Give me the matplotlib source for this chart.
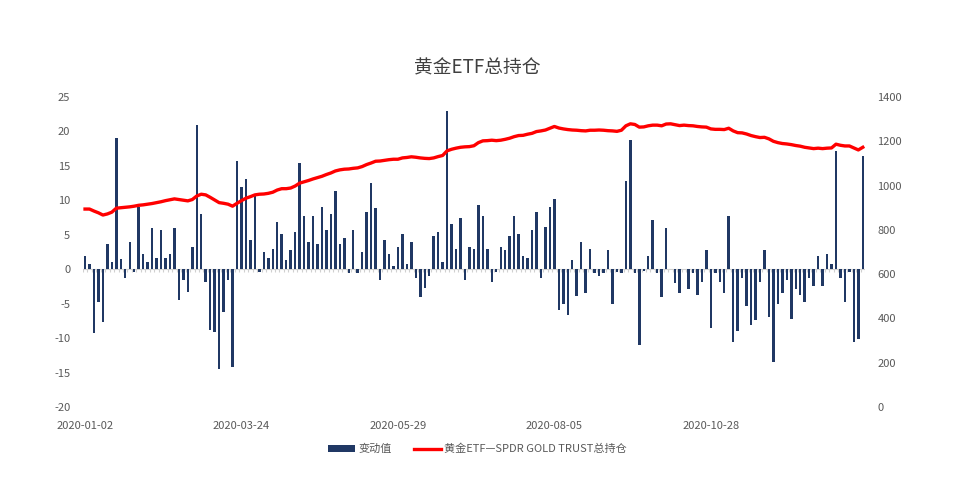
import numpy as np
import matplotlib.pyplot as plt
from matplotlib.patches import Patch
from matplotlib.lines import Line2D

plt.rcParams['font.family'] = ['Noto Sans CJK SC', 'DejaVu Sans']
plt.rcParams['axes.unicode_minus'] = False

# daily change (left axis)
change = [1.9, 0.7, -9.3, -4.7, -7.6, 3.6, 1.0, 19.1, 1.5, -1.3,
          3.9, -0.4, 9.0, 2.2, 1.0, 6.0, 1.6, 5.7, 1.6, 2.2,
          6.0, -4.5, -1.6, -3.3, 3.3, 21.0, 8.0, -1.8, -8.8, -9.1,
          -14.5, -6.2, -1.6, -14.2, 15.7, 12.0, 13.1, 4.2, 10.6, -0.4,
          2.5, 1.6, 3.0, 6.8, 5.1, 1.3, 2.8, 5.4, 15.4, 7.7,
          3.9, 7.7, 3.6, 9.0, 5.7, 8.0, 11.4, 3.6, 4.5, -0.6,
          5.7, -0.6, 2.5, 8.3, 12.5, 8.9, -1.6, 4.2, 2.2, 0.4,
          3.3, 5.1, 0.7, 3.9, -1.2, -4.1, -2.7, -1.0, 4.8, 5.4,
          1.0, 23.0, 6.5, 3.0, 7.4, -1.5, 3.3, 3.0, 9.3, 7.7,
          3.0, -1.8, -0.4, 3.3, 2.8, 4.8, 7.7, 5.1, 1.9, 1.6,
          5.7, 8.3, -1.2, 6.2, 9.1, 10.2, -5.9, -5.0, -6.6, 1.3,
          -3.9, 3.9, -3.5, 3.0, -0.6, -1.0, -0.6, 2.8, -5.0, -0.4,
          -0.6, 12.8, 18.8, -0.6, -11.0, -0.3, 1.9, 7.1, -0.6, -4.1,
          6.0, 0.1, -2.0, -3.5, 0.1, -2.9, -0.6, -3.8, -1.8, 2.8,
          -8.5, -0.6, -1.8, -3.5, 7.7, -10.5, -9.0, -1.2, -5.3, -8.1,
          -7.4, -1.8, 2.8, -7.0, -13.4, -5.0, -3.5, -1.5, -7.2, -2.9,
          -3.8, -4.7, -1.2, -2.4, 1.9, -2.4, 2.2, 0.7, 17.1, -1.2,
          -4.7, -0.4, -10.5, -10.2, 16.5]

# total holdings (right axis)
holding = [894, 894, 885, 877, 867, 872, 880, 898, 900, 902,
           904, 907, 911, 913, 916, 919, 923, 927, 932, 936,
           940, 937, 934, 931, 937, 953, 961, 958, 947, 935,
           923, 920, 916, 907, 920, 932, 943, 950, 958, 961,
           962, 965, 970, 980, 986, 986, 989, 998, 1011, 1017,
           1023, 1030, 1036, 1042, 1050, 1057, 1066, 1071, 1074, 1075,
           1078, 1080, 1086, 1095, 1102, 1110, 1111, 1114, 1117, 1119,
           1119, 1125, 1127, 1130, 1128, 1125, 1123, 1122, 1125, 1131,
           1136, 1157, 1164, 1169, 1173, 1175, 1176, 1180, 1194, 1202,
           1203, 1205, 1203, 1205, 1209, 1214, 1221, 1226, 1227, 1232,
           1236, 1244, 1247, 1251, 1259, 1267, 1260, 1256, 1253, 1251,
           1250, 1248, 1247, 1250, 1250, 1251, 1250, 1248, 1247, 1245,
           1250, 1270, 1279, 1276, 1264, 1265, 1270, 1273, 1273, 1270,
           1278, 1279, 1275, 1271, 1273, 1271, 1270, 1267, 1265, 1264,
           1256, 1254, 1254, 1253, 1259, 1247, 1239, 1238, 1233, 1226,
           1221, 1217, 1218, 1211, 1200, 1194, 1190, 1188, 1185, 1181,
           1178, 1173, 1170, 1167, 1169, 1167, 1169, 1170, 1187, 1182,
           1179, 1179, 1170, 1161, 1173]

tick_pos = [0, 35, 70, 105, 140]
tick_labels = ['2020-01-02', '2020-03-24', '2020-05-29', '2020-08-05', '2020-10-28']

bar_color = '#203864'
line_color = '#ff0000'
text_color = '#595959'

x = np.arange(len(change))

fig = plt.figure(figsize=(9.55, 4.94), dpi=100)
ax = fig.add_axes([0.0867, 0.1761, 0.8191, 0.6275])
ax.bar(x, change, width=0.55, color=bar_color, zorder=2)
ax.set_xlim(-0.5, len(change) - 0.5)
ax.set_ylim(-20, 25)
ax.set_yticks(np.arange(-20, 26, 5))
ax.set_xticks(tick_pos)
ax.set_xticklabels(tick_labels)
# zero axis line with small category ticks
ax.axhline(0, color='#d0d0d0', lw=0.8, zorder=1)
ax.vlines(np.arange(len(change) + 1) - 0.5, -0.35, 0, color='#d0d0d0', lw=0.8, zorder=1)
for s in ax.spines.values():
    s.set_visible(False)
ax.tick_params(axis='both', length=0, labelsize=8, colors=text_color)
ax.tick_params(axis='x', pad=10)
ax.tick_params(axis='y', pad=9)

ax2 = ax.twinx()
ax2.plot(x, holding, color=line_color, lw=2.4, zorder=3)
ax2.set_ylim(0, 1400)
ax2.set_yticks(np.arange(0, 1401, 200))
for s in ax2.spines.values():
    s.set_visible(False)
ax2.tick_params(axis='y', length=0, labelsize=8, colors=text_color, pad=9)

fig.text(0.5, 0.862, '黄金ETF总持仓', ha='center', va='center', fontsize=13.5, color='#404040')

handles = [Patch(facecolor=bar_color), Line2D([0], [0], color=line_color, lw=2.4)]
fig.legend(handles, ['变动值', '黄金ETF—SPDR GOLD TRUST总持仓'], loc='center',
           bbox_to_anchor=(0.5, 0.091), ncol=2, frameon=False, fontsize=8,
           handlelength=2.4, handleheight=0.6, handletextpad=0.3,
           columnspacing=2.0, labelcolor=text_color)

fig.savefig('out.png', dpi=100)
